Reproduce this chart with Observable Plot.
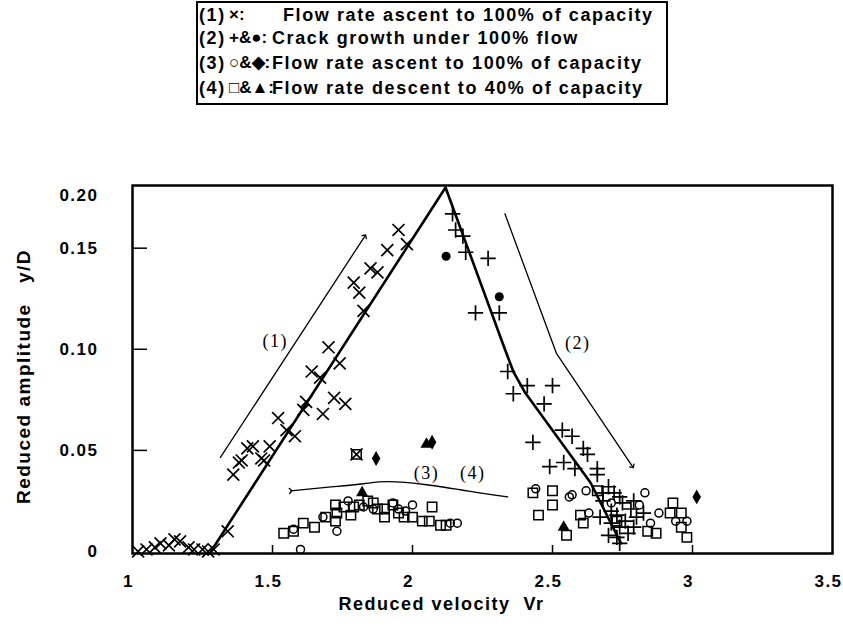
<!DOCTYPE html>
<html><head><meta charset="utf-8">
<script src="https://cdn.jsdelivr.net/npm/d3@7"></script>
<script src="https://cdn.jsdelivr.net/npm/@observablehq/plot@0.6"></script>
<style>
body{margin:0;background:#fff;width:843px;height:632px;overflow:hidden;font-family:"Liberation Sans",Arial,sans-serif;}
#legend{position:relative;height:110px;}
#legend .box{position:absolute;left:196px;top:1px;width:468px;height:100px;border:2px solid #000;}
#legend span{position:absolute;font-size:18px;line-height:18px;font-weight:bold;letter-spacing:1.6px;white-space:pre;color:#000;}
#legend span.sym{font-size:17px;letter-spacing:0;}
</style></head><body>
<div id="legend"><div class="box"></div></div>
<div id="chart"></div>
<script>
// ---- legend ----
const legendIds = ["(1)", "(2)", "(3)", "(4)"];
const legendSymbols = ["\u00d7:", "+&\u25cf:", "\u25cb&\u25c6:", "\u25a1&\u25b2:"];
const legendTexts = [
  "Flow rate ascent to 100% of capacity",
  "Crack growth under 100% flow",
  "Flow rate ascent to 100% of capacity",
  "Flow rate descent to 40% of capacity"
];
// ---- axes ----
const xTicks = [1, 1.5, 2, 2.5, 3, 3.5];
const xTickLabels = ["1", "1.5", "2", "2.5", "3", "3.5"];
const yTicks = [0, 0.05, 0.10, 0.15];
const yTickLabels = ["0", "0.05", "0.10", "0.15"];
const yTopLabel = "0.20";
const xTitle = "Reduced velocity  Vr";
const yTitle = "Reduced amplitude   y/D";
// ---- data ----
// (1) x : flow rate ascent
const s1Times = [
  [1.02,0.000],[1.05,0.001],[1.08,0.002],[1.10,0.004],[1.13,0.003],[1.15,0.006],[1.17,0.005],
  [1.20,0.002],[1.22,0.001],[1.25,0.001],[1.27,0.000],[1.29,0.001],
  [1.34,0.010],[1.36,0.038],[1.38,0.044],[1.39,0.045],[1.41,0.051],[1.43,0.052],[1.46,0.046],
  [1.47,0.045],[1.49,0.052],[1.52,0.066],[1.55,0.060],[1.58,0.057],[1.61,0.070],[1.62,0.074],
  [1.64,0.089],[1.67,0.086],[1.68,0.068],[1.70,0.101],[1.72,0.076],[1.74,0.093],[1.76,0.073],
  [1.79,0.133],[1.80,0.048],[1.81,0.128],[1.825,0.119],[1.85,0.140],[1.875,0.138],[1.91,0.149],
  [1.95,0.159],[1.98,0.152]
];
// (2) + : crack growth under 100% flow
const s2Plus = [
  [2.143,0.167],[2.154,0.159],[2.18,0.156],[2.19,0.148],[2.27,0.145],[2.225,0.118],[2.31,0.118],
  [2.34,0.089],[2.36,0.078],[2.41,0.082],[2.50,0.082],[2.47,0.073],[2.535,0.060],[2.57,0.057],
  [2.43,0.054],[2.61,0.051],[2.625,0.048],[2.49,0.042],[2.54,0.044],[2.58,0.041],[2.66,0.041],
  [2.66,0.038],[2.70,0.032],[2.72,0.029],[2.68,0.025],[2.74,0.027],[2.75,0.024],[2.71,0.020],
  [2.78,0.021],[2.73,0.018],[2.76,0.015],[2.80,0.017],[2.71,0.014],[2.74,0.012],[2.79,0.012],
  [2.70,0.008],[2.73,0.007],[2.77,0.009],[2.74,0.004],[2.67,0.017],[2.825,0.019],[2.68,0.029],
  [2.79,0.025]
];
const s2Dots = [[2.12,0.146],[2.31,0.126]];
// (3) o & diamond : flow rate ascent
const s3Circles = [
  [1.73,0.010],[1.60,0.001],[1.575,0.011],[1.68,0.017],[1.77,0.025],[1.825,0.022],[1.86,0.021],
  [1.93,0.024],[1.95,0.021],[1.975,0.020],[2.00,0.023],[2.135,0.014],[2.16,0.014],
  [2.44,0.031],[2.56,0.027],[2.57,0.028],[2.63,0.019],[2.62,0.030],[2.71,0.024],[2.83,0.029],
  [2.81,0.023],[2.85,0.014],[2.88,0.019],[2.94,0.015],[2.98,0.015]
];
const s3Diamonds = [[1.87,0.046],[2.07,0.054],[3.015,0.027]];
// (4) square & triangle : flow rate descent
const s4Squares = [
  [1.54,0.009],[1.575,0.010],[1.61,0.014],[1.65,0.012],[1.69,0.017],[1.725,0.015],[1.73,0.019],
  [1.725,0.023],[1.755,0.022],[1.78,0.018],[1.79,0.022],[1.81,0.023],[1.84,0.025],[1.86,0.024],
  [1.875,0.021],[1.90,0.021],[1.93,0.023],[1.90,0.017],[1.95,0.019],[1.97,0.017],[2.00,0.017],
  [2.035,0.015],[2.06,0.015],[2.07,0.022],[2.10,0.013],[2.12,0.013],[1.80,0.048],
  [2.43,0.029],[2.50,0.030],[2.50,0.023],[2.45,0.018],[2.55,0.008],[2.60,0.018],[2.61,0.014],
  [2.66,0.030],[2.73,0.015],[2.87,0.009],[2.84,0.010],[2.93,0.024],[2.92,0.019],[2.96,0.019],
  [2.96,0.012],[2.98,0.007]
];
const s4Triangles = [[1.82,0.029],[2.54,0.012],[2.05,0.053]];
// curves and guide arrows
const mainLine = [[1.28,0.0],[2.118,0.180],[2.33,0.100],[2.36,0.089],[2.40,0.079],[2.636,0.034],[2.745,0.004]];
const arrow1 = [[1.314,0.0465],[1.83,0.156]];
const arrow2 = [[2.33,0.167],[2.514,0.098],[2.786,0.042]];
const arrow34 = [[1.565,0.030],[1.70,0.0318],[1.825,0.0335],[1.91,0.0345],[2.05,0.033],[2.24,0.029],[2.34,0.027]];
const notes = [
  {x:1.51, y:0.104, t:"(1)"},
  {x:2.59, y:0.103, t:"(2)"},
  {x:2.05, y:0.0385, t:"(3)"},
  {x:2.215, y:0.0385, t:"(4)"}
];

// ---- build legend ----
const leg = document.getElementById("legend");
const rowY = [15, 38, 63, 88];
legendIds.forEach((id, i) => {
  const add = (txt, left, cls) => {
    const s = document.createElement("span");
    if (cls) s.className = cls;
    s.textContent = txt; s.style.left = left + "px"; s.style.top = (rowY[i] - 9) + "px";
    leg.appendChild(s);
  };
  add(id, 199, null);
  add(legendSymbols[i], 229, "sym");
  add(legendTexts[i], i === 0 ? 283 : 272, null);
});

// ---- chart ----
const xs = d => d[0], ys = d => d[1];
const xLab = new Map(xTicks.map((d, i) => [d, xTickLabels[i]]));
const yLab = new Map(yTicks.map((d, i) => [d, yTickLabels[i]]));
const chart = Plot.plot({
  width: 843, height: 522,
  marginTop: 75, marginBottom: 79, marginLeft: 132, marginRight: 11,
  style: {fontFamily: '"Liberation Sans", Arial, sans-serif', fontSize: "17px", fontWeight: "bold", color: "#000", background: "#fff", letterSpacing: "1.5px"},
  x: {domain: [1, 3.5]},
  y: {domain: [-0.001, 0.181]},
  marks: [
    Plot.axisX({ticks: xTicks, tickSize: 0, tickPadding: 21, dx: -4, tickFormat: d => xLab.get(d), label: null}),
    Plot.axisY({ticks: yTicks, tickSize: 0, tickPadding: 34, tickFormat: d => yLab.get(d), label: null}),
    Plot.text([yTopLabel], {frameAnchor: "top-left", dx: -34, dy: 3, textAnchor: "end"}),
    Plot.tickX(xTicks.slice(1, -1), {x: d => d, insetTop: 360, strokeWidth: 1.5}),
    Plot.tickY(yTicks.slice(1), {y: d => d, insetRight: 685, strokeWidth: 1.5}),
    Plot.text([xTitle], {frameAnchor: "bottom", dx: -41, dy: 56, fontSize: 18}),
    Plot.text([yTitle], {frameAnchor: "left", dx: -109, dy: 7, rotate: -90, textAnchor: "middle", fontSize: 19}),
    Plot.line(mainLine, {x: xs, y: ys, stroke: "#000", strokeWidth: 2.6}),
    Plot.line(arrow1, {x: xs, y: ys, stroke: "#000", strokeWidth: 1.3, markerEnd: "arrow"}),
    Plot.line(arrow2, {x: xs, y: ys, stroke: "#000", strokeWidth: 1.3, markerEnd: "arrow"}),
    Plot.line(arrow34, {x: xs, y: ys, stroke: "#000", strokeWidth: 1.3, curve: "natural", markerStart: "arrow"}),
    Plot.dot(s4Squares, {x: xs, y: ys, symbol: "square", r: 5.3, fill: "none", stroke: "#000", strokeWidth: 1.5}),
    Plot.dot(s3Circles, {x: xs, y: ys, symbol: "circle", r: 4, fill: "none", stroke: "#000", strokeWidth: 1.5}),
    Plot.dot(s1Times, {x: xs, y: ys, symbol: "times", r: 5.5, stroke: "#000", strokeWidth: 1.7}),
    Plot.dot(s2Plus, {x: xs, y: ys, symbol: "plus", r: 5, stroke: "#000", strokeWidth: 1.7}),
    Plot.dot(s2Dots, {x: xs, y: ys, symbol: "circle", r: 4.5, fill: "#000", stroke: "none"}),
    Plot.dot(s3Diamonds, {x: xs, y: ys, symbol: "diamond", r: 4.5, fill: "#000", stroke: "none"}),
    Plot.dot(s4Triangles, {x: xs, y: ys, symbol: "triangle", r: 4.5, fill: "#000", stroke: "none"}),
    Plot.text(notes, {x: "x", y: "y", text: "t", fontFamily: '"Liberation Serif", serif', fontWeight: "normal", fontSize: 18, letterSpacing: "1px"}),
    Plot.frame({stroke: "#000", strokeWidth: 2.5})
  ]
});
document.getElementById("chart").appendChild(chart);
</script>
</body></html>
